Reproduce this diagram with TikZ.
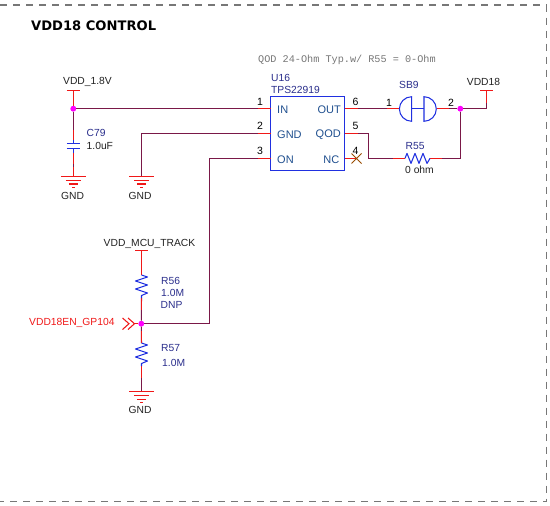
\documentclass[tikz,border=0pt]{standalone}
\usepackage{fontspec}
\setmainfont{Liberation Sans}
\newfontfamily\monof{Liberation Mono}
\newfontfamily\titlef{DejaVu Sans}
\usetikzlibrary{calc}
\definecolor{wirec}{HTML}{7A1848}
\definecolor{stubc}{HTML}{F01818}
\definecolor{symc}{HTML}{2030E0}
\definecolor{navyc}{HTML}{2A2E8C}
\definecolor{pinc}{HTML}{1F4F8F}
\definecolor{txtc}{HTML}{222222}
\definecolor{dotc}{HTML}{FF00FF}
\definecolor{framec}{HTML}{777777}
\tikzset{
  wire/.style={wirec,line width=1.05pt},
  stub/.style={stubc,line width=1.05pt},
  sym/.style={symc,line width=1.05pt},
  junction/.style={circle,fill=dotc,inner sep=0pt,minimum size=5.6pt},
  lbl/.style={font=\fontsize{10.3}{12}\selectfont,text=txtc,inner sep=0pt},
  reflbl/.style={font=\fontsize{10.3}{12}\selectfont,text=navyc,inner sep=0pt,anchor=west},
  pinnum/.style={font=\fontsize{10.5}{12}\selectfont,text=black,inner sep=0pt},
  pinname/.style={font=\fontsize{11}{12}\selectfont,text=pinc,inner sep=0pt},
  ic/.style={draw=symc,line width=1.1pt,fill=none,minimum width=74pt,minimum height=74pt,inner sep=0pt},
  border/.style={framec,line width=1.5pt,dash pattern=on 7pt off 6pt},
}
\newcommand{\gndsym}[1]{%
  \draw[stub] ($(#1)+(-12.5,0)$) -- ($(#1)+(12.5,0)$);
  \draw[stub] ($(#1)+(-7.5,4)$) -- ($(#1)+(7.5,4)$);
  \draw[stub] ($(#1)+(-4.5,7.5)$) -- ($(#1)+(4.5,7.5)$);
  \draw[stub] ($(#1)+(-1.2,11)$) -- ($(#1)+(1.2,11)$);
}
\newcommand{\vzig}[2]{%
  \draw[sym,line join=round] (#1) -- ++(6,2) -- ++(-12,4) -- ++(12,4) -- ++(-12,4) -- ++(12,4) -- ++(-6,2.5) -- (#2);
}
\begin{document}
\begin{tikzpicture}[x=1pt,y=-1pt]
\useasboundingbox (0,0) rectangle (550,506);
\fill[white] (0,0) rectangle (550,506);
% frame
\coordinate (fTL) at (0,5);
\coordinate (fTR) at (546.5,5);
\coordinate (fBR) at (546.5,501.7);
\coordinate (fBL) at (0,501.7);
\draw[border] (fTL) -- (fTR) -- (fBR) -- (fBL);
\node[anchor=west,inner sep=0pt,font=\titlef\bfseries\fontsize{13.1}{14}\selectfont] (title) at (31,26) {VDD18 CONTROL};
\node[anchor=west,inner sep=0pt,text=framec,font=\monof\fontsize{10.2}{12}\selectfont] (note) at (258,59.5) {QOD 24-Ohm Typ.w/ R55 = 0-Ohm};

% U16
\node[ic] (u16) at (307.6,133.7) {};
\node[anchor=west,inner sep=0pt,font=\fontsize{10.3}{12}\selectfont,text=navyc] (u16ref) at (271,78) {U16};
\node[anchor=west,inner sep=0pt,font=\fontsize{10.3}{12}\selectfont,text=navyc] (u16val) at (271,90) {TPS22919};
\coordinate (p1) at (270.6,108.7);
\coordinate (p2) at (270.6,133.5);
\coordinate (p3) at (270.6,158.4);
\coordinate (p6) at (344.6,108.7);
\coordinate (p5) at (344.6,133.5);
\coordinate (p4) at (344.6,158.4);
\node[pinname,anchor=west] (nIN) at (277,110) {IN};
\node[pinname,anchor=west] (nGND) at (277,135) {GND};
\node[pinname,anchor=west] (nON) at (277,160) {ON};
\node[pinname,anchor=east] (nOUT) at (341,110) {OUT};
\node[pinname,anchor=east] (nQOD) at (341,135) {QOD};
\node[pinname,anchor=east] (nNC) at (339.5,160) {NC};
\node[pinnum] (n1) at (260,102) {1};
\node[pinnum] (n2) at (260,126) {2};
\node[pinnum] (n3) at (260,151) {3};
\node[pinnum] (n6) at (355.5,102) {6};
\node[pinnum] (n5) at (355.5,126) {5};
\node[pinnum] (n4) at (355.5,150.5) {4};
\node[pinnum] (s1) at (389,103) {1};
\node[pinnum] (s2) at (451,103) {2};

% named points
\coordinate (vb) at (73.3,90.5);
\node[junction] (j1) at (73.3,108.7) {};
\coordinate (ctop) at (73.3,143.5);
\coordinate (cbot) at (73.3,148.5);
\coordinate (g1) at (73.3,176.5);
\coordinate (g2c) at (141.5,133.5);
\coordinate (g2) at (141.5,176.5);
\coordinate (oncorner) at (209.5,158.4);
\coordinate (onlow) at (209.5,323.7);
\node[junction] (j2) at (141.3,323.7) {};
\node[junction] (j3) at (460.3,108.7) {};
\coordinate (sbL) at (399.3,108.7);
\coordinate (sbR) at (436.7,108.7);
\coordinate (vddcorner) at (486.5,108.7);
\coordinate (vddbar) at (486.5,90.7);
\coordinate (q1) at (368.7,133.5);
\coordinate (q2) at (368.7,158.4);
\coordinate (rL) at (405,158.4);
\coordinate (rR) at (430,158.4);
\coordinate (rc) at (460.3,158.4);
\coordinate (mb) at (141.5,250.7);
\coordinate (r56a) at (141.5,275);
\coordinate (r56b) at (141.5,298);
\coordinate (r57a) at (141.5,343);
\coordinate (r57b) at (141.5,366);
\coordinate (g3) at (141.5,391.7);

% wires
\draw[wire] (j1) -- (p1);
\draw[wire] (g2) -- (g2c) -- (p2);
\draw[wire] (onlow) -- (oncorner) -- (p3);
\draw[wire] (j2) -- (onlow);
\draw[wire] (p6) -- (sbL);
\draw[wire] (sbR) -- (j3) -- (vddcorner) -- (vddbar);
\draw[wire] (p5) -- (q1) -- (q2) -- (rL);
\draw[wire] (rR) -- (rc) -- (j3);
\draw[wire] (j1) -- (ctop);
\draw[wire] (cbot) -- (g1);
\draw[wire] (r56b) -- (j2) -- (r57a);
\draw[wire] (r57b) -- (g3);

% red stubs
\draw[stub] (j1) -- (vb);
\draw[stub] ($(vb)+(-6.5,0)$) -- ($(vb)+(6.5,0)$);
\draw[stub] ($(ctop)+(0,-14)$) -- (ctop);
\draw[stub] (cbot) -- ($(cbot)+(0,15)$);
\draw[stub] ($(g1)+(0,-10)$) -- (g1);
\draw[stub] ($(p1)+(-13,0)$) -- (p1);
\draw[stub] ($(p2)+(-13,0)$) -- (p2);
\draw[stub] ($(p3)+(-13,0)$) -- (p3);
\draw[stub] (p6) -- ($(p6)+(13,0)$);
\draw[stub] (p5) -- ($(p5)+(13,0)$);
\draw[stub] (p4) -- ($(p4)+(12,0)$);
\draw[stub] ($(sbL)+(-12,0)$) -- (sbL);
\draw[stub] (sbR) -- ($(sbR)+(12,0)$);
\draw[stub] ($(rL)+(-12,0)$) -- (rL);
\draw[stub] (rR) -- ($(rR)+(12,0)$);
\draw[stub] ($(vddcorner)+(0,-6)$) -- (vddbar);
\draw[stub] ($(vddbar)+(-6.5,0)$) -- ($(vddbar)+(6.5,0)$);
\draw[stub] (mb) -- (r56a);
\draw[stub] ($(mb)+(-6.5,0)$) -- ($(mb)+(6.5,0)$);
\draw[stub] (r56b) -- ($(r56b)+(0,12)$);
\draw[stub] ($(r57a)+(0,-12)$) -- (r57a);
\draw[stub] (r57b) -- ($(r57b)+(0,12)$);
\gndsym{g1}
\gndsym{g2}
\gndsym{g3}

% C79
\draw[sym] ($(ctop)+(-6.5,0)$) -- ($(ctop)+(6.5,0)$);
\draw[sym] ($(cbot)+(-6.5,0)$) -- ($(cbot)+(6.5,0)$);
\draw[sym] ($(ctop)+(0,-4)$) -- (ctop);
\draw[sym] (cbot) -- ($(cbot)+(0,4)$);

% SB9
\draw[sym] (411.7,96.7) arc (-90:-270:12.3) -- cycle;
\draw[sym] (424,96.7) arc (-90:90:12.3) -- cycle;
\draw[sym] (411.7,108.7) -- (424,108.7);

% resistors
\vzig{r56a}{r56b}
\vzig{r57a}{r57b}
\draw[sym,line join=round] (rL) -- ++(2,-5) -- ++(4,10) -- ++(4,-10) -- ++(4,10) -- ++(4,-10) -- ++(4,10) -- (rR);

% NC cross
\draw[draw=orange!60!black,line width=0.9pt] (351.5,153.5) -- (361.5,163.5) (361.5,153.5) -- (351.5,163.5);

% off-page connector
\draw[stub] (122.5,318) -- (129,323.7) -- (122.5,329.5);
\draw[stub] (128,318) -- (134.5,323.7) -- (128,329.5);
\draw[stub] (134.5,323.7) -- (j2);

% junctions on top
\node[junction] at (j1) {};
\node[junction] at (j2) {};
\node[junction] at (j3) {};

% labels
\node[lbl] (lv18) at (87.5,82) {VDD\_1.8V};
\node[reflbl] (c79) at (86.5,133) {C79};
\node[lbl,anchor=west] (c79v) at (86.5,146) {1.0uF};
\node[lbl] (gnd1) at (72.6,195.5) {GND};
\node[lbl] (gnd2) at (140,195.5) {GND};
\node[lbl] (gnd3) at (140,410) {GND};
\node[reflbl] (sb9) at (399,84.5) {SB9};
\node[lbl] (vdd18) at (483.5,82) {VDD18};
\node[reflbl] (r55) at (405.5,146) {R55};
\node[lbl] (r55v) at (419.5,170) {0 ohm};
\node[lbl] (mcu) at (149.5,244) {VDD\_MCU\_TRACK};
\node[reflbl] (r56) at (161,281) {R56};
\node[reflbl] (r56v) at (161,293) {1.0M};
\node[reflbl] (r56d) at (160.5,305) {DNP};
\node[reflbl] (r57) at (161,348) {R57};
\node[reflbl] (r57v) at (162,363) {1.0M};
\node[anchor=west,inner sep=0pt,font=\fontsize{10.3}{12}\selectfont,text=stubc] (en) at (29,322.5) {VDD18EN\_GP104};
\end{tikzpicture}
\end{document}
